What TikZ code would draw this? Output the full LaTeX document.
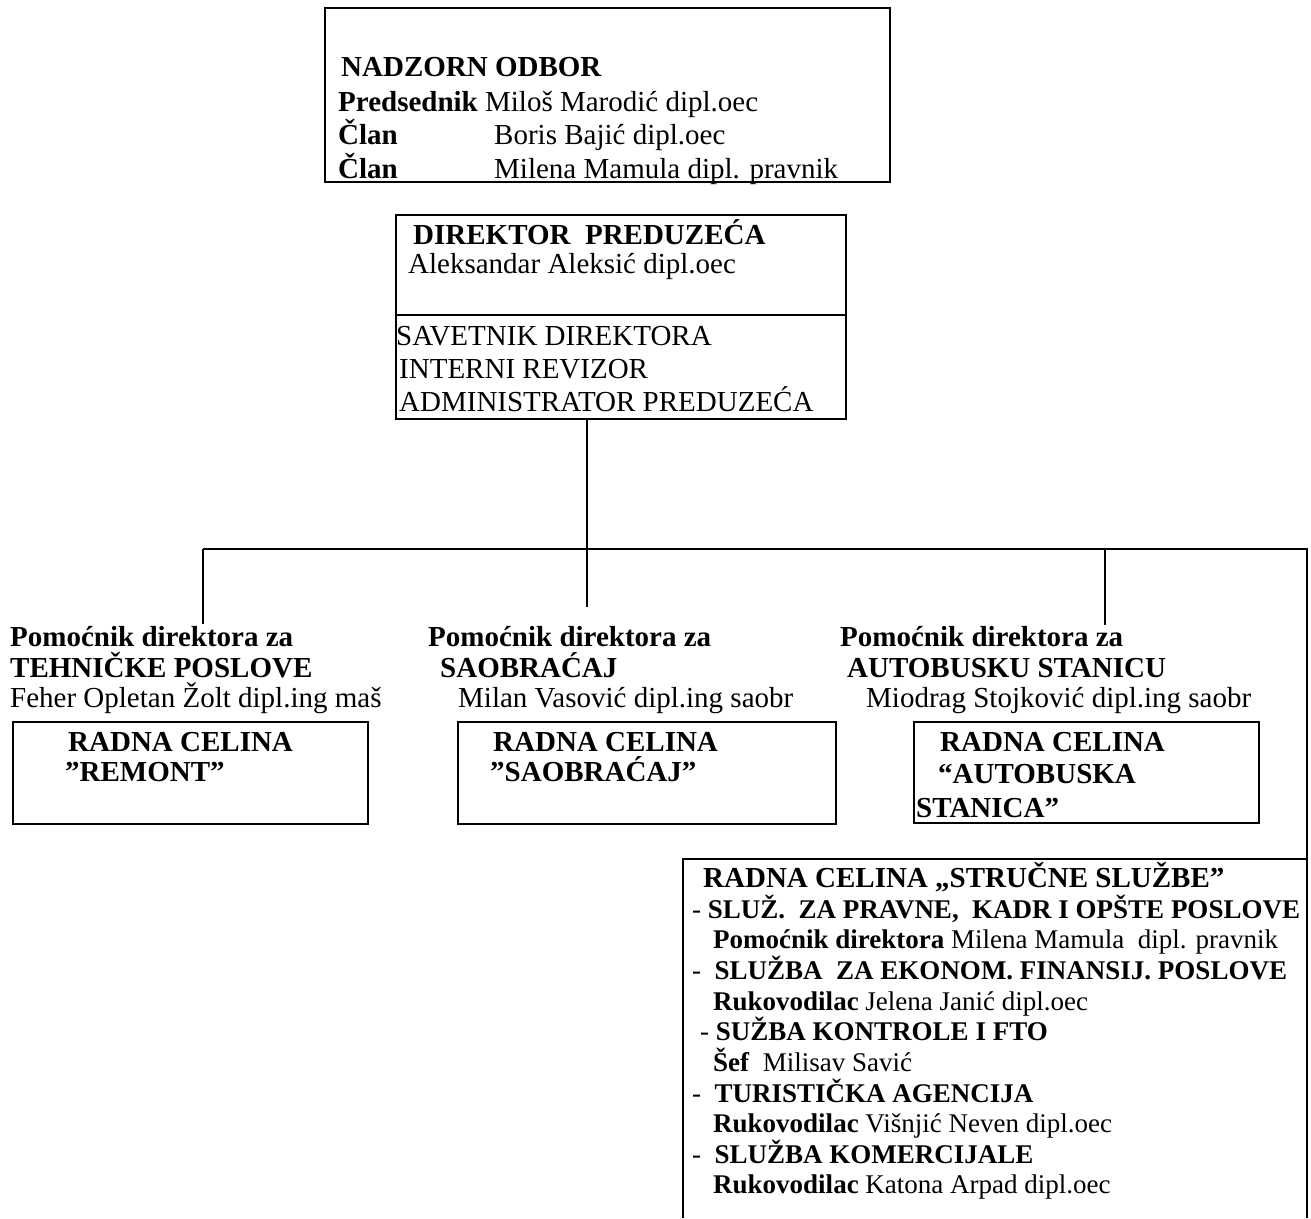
\documentclass[tikz,border=0pt]{standalone}
\usepackage{fontspec}
\setmainfont{Liberation Serif}
\begin{document}
\begin{tikzpicture}[x=1pt,y=-1pt,
  big/.style={font=\fontsize{29}{33}\selectfont, anchor=base west, inner sep=0pt},
  mid/.style={font=\fontsize{27}{31}\selectfont, anchor=base west, inner sep=0pt},
  boxst/.style={draw, line width=2pt, anchor=north west, inner sep=0pt},
  conn/.style={line width=1.6pt}]
\useasboundingbox (0,0) rectangle (1311,1218);

% boxes
\node[boxst, minimum width=565pt, minimum height=174pt] (top) at (324,7) {};
\node[boxst, minimum width=450pt, minimum height=204pt] (dir) at (395,214) {};
\draw[line width=1.5pt] (dir.west |- 0,315) -- (dir.east |- 0,315);
\node[boxst, minimum width=355pt, minimum height=102pt] (b1) at (12,721) {};
\node[boxst, minimum width=378pt, minimum height=102pt] (b2) at (457,721) {};
\node[boxst, minimum width=345pt, minimum height=101pt] (b3) at (913,721) {};

% connectors
\coordinate (dout) at (587,418);
\coordinate (busL) at (203,549);
\coordinate (busR) at (1307,549);
\coordinate (rEnd) at (1307,1218);
\coordinate (g1top) at (203,624);
\coordinate (g2top) at (587,607);
\coordinate (g3top) at (1105,625);
\coordinate (sbL) at (683,1218);
\coordinate (sbTL) at (683,859);
\coordinate (sbTR) at (1307,859);
\draw[conn] (dout) -- (dout |- busL);
\draw[conn] (busL) -- (busR) -- (rEnd);
\draw[conn] (busL) -- (g1top);
\draw[conn] (g2top |- busL) -- (g2top);
\draw[conn] (g3top |- busL) -- (g3top);
\draw[line width=2pt] (sbL) -- (sbTL) -- (sbTR);

% top box text
\node[big] (nadz) at (341,76) {\textbf{NADZORN ODBOR}};
\node[big] (pred) at (338,111) {\textbf{Predsednik} Miloš Marodić dipl.oec};
\node[big] (clan1) at (338,144) {\textbf{Član}};
\node[big] (clan1n) at (494,144) {Boris Bajić dipl.oec};
\node[big] (clan2) at (338,178) {\textbf{Član}};
\node[big] (clan2n) at (494,178) {Milena Mamula dipl. pravnik};

% director text
\node[big] (d1) at (413,244) {\textbf{DIREKTOR~ PREDUZEĆA}};
\node[big] (d2) at (408,273) {Aleksandar Aleksić dipl.oec};
\node[big] (d3) at (396,345) {SAVETNIK DIREKTORA};
\node[big] (d4) at (399,378) {INTERNI REVIZOR};
\node[big] (d5) at (399,411) {ADMINISTRATOR PREDUZEĆA};

% group 1
\node[big] (g1a) at (10,646) {\textbf{Pomoćnik direktora za}};
\node[big] (g1b) at (10,677) {\textbf{TEHNIČKE POSLOVE}};
\node[big] (g1c) at (10,707) {Feher Opletan Žolt dipl.ing maš};
\node[big] (r1a) at (68,751) {\textbf{RADNA CELINA}};
\node[big] (r1b) at (65,781) {\textbf{”REMONT”}};

% group 2
\node[big] (g2a) at (428,646) {\textbf{Pomoćnik direktora za}};
\node[big] (g2b) at (440,677) {\textbf{SAOBRAĆAJ}};
\node[big] (g2c) at (458,707) {Milan Vasović dipl.ing saobr};
\node[big] (r2a) at (493,751) {\textbf{RADNA CELINA}};
\node[big] (r2b) at (490,781) {\textbf{”SAOBRAĆAJ”}};

% group 3
\node[big] (g3a) at (840,646) {\textbf{Pomoćnik direktora za}};
\node[big] (g3b) at (847,677) {\textbf{AUTOBUSKU STANICU}};
\node[big] (g3c) at (866,707) {Miodrag Stojković dipl.ing saobr};
\node[big] (r3a) at (940,751) {\textbf{RADNA CELINA}};
\node[big] (r3b) at (938,783) {\textbf{“AUTOBUSKA}};
\node[big] (r3c) at (916,817) {\textbf{STANICA”}};

% bottom box text
\node[big] (s0) at (703,887) {\textbf{RADNA CELINA „STRUČNE SLUŽBE”}};
\node[mid] (s1) at (692,918) {- \textbf{SLUŽ.~ ZA PRAVNE,~ KADR I OPŠTE POSLOVE}};
\node[mid] (s2) at (713,948) {\textbf{Pomoćnik direktora} Milena Mamula~ dipl. pravnik};
\node[mid] (s3) at (692,979) {-~ \textbf{SLUŽBA~ ZA EKONOM. FINANSIJ. POSLOVE}};
\node[mid] (s4) at (713,1010) {\textbf{Rukovodilac} Jelena Janić dipl.oec};
\node[mid] (s5) at (700,1040) {- \textbf{SUŽBA KONTROLE I FTO}};
\node[mid] (s6) at (713,1071) {\textbf{Šef}~ Milisav Savić};
\node[mid] (s7) at (692,1102) {-~ \textbf{TURISTIČKA AGENCIJA}};
\node[mid] (s8) at (713,1132) {\textbf{Rukovodilac} Višnjić Neven dipl.oec};
\node[mid] (s9) at (692,1163) {-~ \textbf{SLUŽBA KOMERCIJALE}};
\node[mid] (s10) at (713,1193) {\textbf{Rukovodilac} Katona Arpad dipl.oec};
\end{tikzpicture}
\end{document}
